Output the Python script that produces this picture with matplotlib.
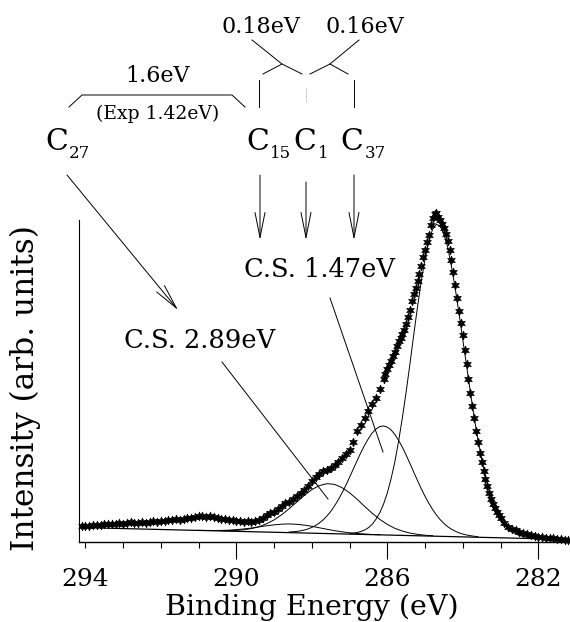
import numpy as np
import matplotlib
matplotlib.use('Agg')
import matplotlib.pyplot as plt
from matplotlib.ticker import MultipleLocator

plt.rcParams['font.family'] = ['DejaVu Serif']

# ---------------- data (binding energy in eV, intensity in arb. units) -------------
DATA_E_LEFT = [294.1, 294.0, 293.9, 293.8, 293.7, 293.6, 293.5, 293.4, 293.3, 293.2,
               293.1, 293.0, 292.9, 292.8, 292.7, 292.6, 292.5, 292.4, 292.3, 292.2,
               292.1, 292.0, 291.9, 291.8, 291.7, 291.6, 291.5, 291.4, 291.3, 291.2,
               291.1, 291.0, 290.9, 290.8, 290.7, 290.6, 290.5, 290.4, 290.3, 290.2,
               290.1, 290.0, 289.9, 289.8, 289.7, 289.6, 289.5, 289.4, 289.3, 289.2,
               289.1, 289.0, 288.9, 288.8, 288.7, 288.6, 288.5, 288.4, 288.3, 288.2,
               288.1, 288.0, 287.9, 287.8, 287.7, 287.6, 287.5, 287.4, 287.3, 287.2,
               287.1, 287.0, 286.9, 286.8, 286.7, 286.6, 286.5, 286.4, 286.3, 286.2,
               286.1]
DATA_I_LEFT = [15.5, 16, 15.5, 16.5, 17, 16.5, 17.5, 18, 17.5, 18,
               18.5, 18, 18.5, 19.5, 18.5, 19, 19.5, 19, 20, 20.5,
               19.5, 20.5, 21, 21.5, 22, 22.5, 22, 23, 23.5, 24,
               24.5, 25.5, 26, 25, 25.5, 24.5, 23.5, 23, 22.5, 22,
               21.5, 21, 20.5, 20, 20.5, 20, 20.5, 21.5, 24, 27,
               28.5, 30, 33, 36, 38.5, 40, 42.5, 45.5, 48.5, 52,
               56, 61, 64.5, 68, 70.5, 72, 74, 76.5, 80, 84,
               87.5, 92, 100, 111, 117, 124, 131, 138, 144, 153,
               163]

DATA_E_PEAK = [286.05, 286.00, 285.95, 285.90, 285.85, 285.80, 285.75, 285.70, 285.65, 285.60,
               285.55, 285.50, 285.45, 285.40, 285.35, 285.30, 285.25, 285.20, 285.15, 285.10,
               285.05, 285.00, 284.95, 284.90, 284.85, 284.80, 284.75, 284.70, 284.65, 284.60,
               284.55, 284.50, 284.45, 284.40, 284.35, 284.30, 284.25, 284.20, 284.15, 284.10,
               284.05, 284.00, 283.95, 283.90, 283.85, 283.80, 283.75, 283.70, 283.65, 283.60,
               283.55, 283.50, 283.45, 283.40, 283.35, 283.30, 283.25, 283.20, 283.15, 283.10,
               283.05, 283.00]
DATA_I_PEAK = [168, 173, 177, 181, 186, 190, 196, 201, 204, 208,
               212, 218, 225, 232, 241, 248, 254, 261, 268, 276,
               285, 292, 300, 307, 317, 324, 328, 329, 325, 322,
               318, 314, 308, 301, 292, 282, 270, 257, 244, 231,
               219, 207, 192, 178, 163, 149, 136, 124, 111, 100,
               89, 80, 71, 63, 56, 49, 43, 38, 34, 30,
               27, 24]

DATA_E_RIGHT = [282.9, 282.8, 282.7, 282.6, 282.5, 282.4, 282.3, 282.2, 282.1, 282.0,
                281.9, 281.8, 281.7, 281.6, 281.5, 281.4, 281.3, 281.2]
DATA_I_RIGHT = [19, 15, 13, 11.5, 10, 9, 8, 7, 6, 5,
                4.5, 4, 4, 3.5, 3, 2.5, 2, 1.5]

# linear background
BASE_E = [294.17, 281.16]
BASE_I = [14, 2]

# fitted components (height above background)
MAIN_E = [287.0, 286.9, 286.8, 286.7, 286.6, 286.5, 286.4, 286.3, 286.2, 286.1,
          286.0, 285.9, 285.8, 285.7, 285.6, 285.5, 285.4, 285.3, 285.2, 285.1,
          285.0, 284.9, 284.8, 284.7, 284.6, 284.5, 284.4, 284.3, 284.2, 284.1,
          284.0, 283.9, 283.8, 283.7, 283.6, 283.5, 283.4, 283.3, 283.2, 283.1,
          283.0, 282.9, 282.8, 282.7, 282.6, 282.5, 282.4, 282.3, 282.2]
MAIN_I = [0.6, 1.1, 1.8, 2.9, 4.5, 6.9, 10.3, 15.6, 22.1, 30.9,
          42.1, 56.5, 73.6, 94.5, 118, 144, 172, 201, 229, 255,
          277, 295, 307, 312, 310, 302, 289, 270, 248, 223,
          197, 171, 145, 120, 98, 78.3, 61.5, 47.1, 35.6, 26.2,
          19, 13.4, 9.4, 6.2, 4.3, 2.8, 1.8, 1.1, 0.7]

CS147_E = [288.6, 288.5, 288.4, 288.3, 288.2, 288.1, 288.0, 287.9, 287.8, 287.7,
           287.6, 287.5, 287.4, 287.3, 287.2, 287.1, 287.0, 286.9, 286.8, 286.7,
           286.6, 286.5, 286.4, 286.3, 286.2, 286.1, 286.0, 285.9, 285.8, 285.7,
           285.6, 285.5, 285.4, 285.3, 285.2, 285.1, 285.0, 284.9, 284.8, 284.7,
           284.6, 284.5, 284.4, 284.3, 284.2, 284.1, 284.0, 283.9, 283.8, 283.7,
           283.6]
CS147_I = [0.7, 1.0, 1.4, 2.1, 3.0, 4.2, 5.8, 7.8, 10.4, 13.6,
           17.6, 22.2, 27.8, 34.0, 41.1, 48.7, 56.9, 65.3, 73.7, 81.9,
           89.5, 96.1, 101.7, 105.8, 108.3, 109, 107.9, 105.2, 100.7, 94.9,
           88.1, 80.3, 72.0, 63.5, 55.2, 47.1, 39.6, 32.7, 26.6, 21.3,
           16.7, 13.0, 9.8, 7.4, 5.5, 3.9, 2.8, 2.0, 1.4, 0.9,
           0.6]

CS289_E = [290.4, 290.2, 290.0, 289.8, 289.6, 289.4, 289.2, 289.0, 288.8, 288.6,
           288.4, 288.2, 288.0, 287.8, 287.6, 287.4, 287.2, 287.0, 286.8, 286.6,
           286.4, 286.2, 286.0, 285.8, 285.6, 285.4, 285.2, 285.0, 284.8]
CS289_I = [0.2, 0.5, 1.0, 1.8, 3.1, 5.2, 8.3, 12.4, 17.7, 24.0,
           30.8, 37.6, 43.6, 47.8, 49.9, 49.4, 46.3, 41.3, 35.0, 28.0,
           21.4, 15.5, 10.6, 6.9, 4.3, 2.5, 1.4, 0.7, 0.4]

SMALL_E = [291.0, 290.8, 290.6, 290.4, 290.2, 290.0, 289.8, 289.6, 289.4, 289.2,
           289.0, 288.8, 288.6, 288.4, 288.2, 288.0, 287.8, 287.6, 287.4, 287.2,
           287.0, 286.8, 286.6, 286.4, 286.2]
SMALL_I = [0.1, 0.2, 0.3, 0.6, 1.0, 1.7, 2.6, 3.7, 5.0, 6.3,
           7.4, 8.3, 8.7, 8.5, 7.9, 6.9, 5.6, 4.3, 3.1, 2.1,
           1.3, 0.8, 0.4, 0.2, 0.1]

XTICKS = [294, 290, 286, 282]
XTICK_LABELS = ['294', '290', '286', '282']

# ---------------- figure -------------
W, H = 570, 622
fig = plt.figure(figsize=(W / 100, H / 100), dpi=100)
ax = fig.add_axes([79 / W, 1 - 541.5 / H, (W - 79) / W, (541.5 - 200) / H])
ax.set_xlim(294.17, 281.16)
ax.set_ylim(0, 341.5)


def background(e):
    e = np.asarray(e, dtype=float)
    return np.interp(e, BASE_E[::-1], BASE_I[::-1])


ax.plot(BASE_E, BASE_I, color='k', lw=0.9, zorder=2)
for ce, ci in [(MAIN_E, MAIN_I), (CS147_E, CS147_I), (CS289_E, CS289_I), (SMALL_E, SMALL_I)]:
    ax.plot(ce, np.asarray(ci) + background(ce), color='k', lw=0.7, zorder=2)

data_e = DATA_E_LEFT + DATA_E_PEAK + DATA_E_RIGHT
data_i = DATA_I_LEFT + DATA_I_PEAK + DATA_I_RIGHT
ax.plot(data_e, data_i, ls='none', marker=(6, 1, 0), ms=6.5, color='k',
        mew=0.4, zorder=3, clip_on=False)

for s in ['top', 'right']:
    ax.spines[s].set_visible(False)
ax.spines['left'].set_bounds(0, 321.5)
ax.spines['left'].set_linewidth(0.8)
ax.spines['bottom'].set_linewidth(1.0)
ax.set_yticks([])
ax.set_xticks(XTICKS)
ax.set_xticklabels(XTICK_LABELS)
ax.xaxis.set_minor_locator(MultipleLocator(1))
ax.tick_params(axis='x', which='major', direction='out', length=12, width=0.8,
               pad=7, labelsize=18)
ax.tick_params(axis='x', which='minor', direction='out', length=4.3, width=0.8)
ax.xaxis.get_major_ticks()[0].tick1line.set_markersize(4.3)

# ---------------- annotations overlay (pixel coordinates) -------------
ov = fig.add_axes([0, 0, 1, 1], zorder=5)
ov.set_xlim(0, W)
ov.set_ylim(H, 0)
ov.axis('off')
ov.patch.set_alpha(0)

lk = dict(color='k', lw=0.7)
# bracket 1.6 eV
ov.plot([69, 82, 232, 245], [107, 95, 95, 107], **lk)
# chevrons
ov.plot([263, 282, 302], [74, 64, 74], **lk)
ov.plot([282, 252], [64, 40], **lk)
ov.plot([310, 330, 348], [74, 64, 74], **lk)
ov.plot([330, 359], [64, 40], **lk)
ov.plot([259, 259], [80, 107], **lk)
ov.plot([354, 354], [80, 107], **lk)
ov.plot([306, 306], [88, 102], color='0.6', lw=0.7, ls=(0, (1, 1.5)))
# pointer lines
ov.plot([330, 383], [298, 452], **lk)
ov.plot([222, 328], [362, 499], **lk)

astyle = dict(arrowstyle='->,head_length=0.9,head_width=0.18', lw=0.7, color='k',
              mutation_scale=20, shrinkA=0, shrinkB=0)
for x0, y0 in [(260, 175), (306, 182), (354, 175)]:
    ov.annotate('', xy=(x0, 240), xytext=(x0, y0), arrowprops=astyle)
ov.annotate('', xy=(178, 310), xytext=(67, 175), arrowprops=astyle)

tk = dict(color='k', va='baseline')
ov.text(261, 33, '0.18eV', ha='center', fontsize=16, **tk)
ov.text(365, 33, '0.16eV', ha='center', fontsize=16, **tk)
ov.text(158, 82, '1.6eV', ha='center', fontsize=16, **tk)
ov.text(158, 119, '(Exp 1.42eV)', ha='center', fontsize=13.5, **tk)
ov.text(319, 277, 'C.S. 1.47eV', ha='center', fontsize=18.5, **tk)
ov.text(200, 348, 'C.S. 2.89eV', ha='center', fontsize=18.5, **tk)

for xc, xs, sub in [(45, 69, '27'), (246, 270, '15'), (293, 318, '1'), (340, 365, '37')]:
    ov.text(xc, 150, 'C', ha='left', fontsize=21.5, **tk)
    ov.text(xs, 158, sub, ha='left', fontsize=12, **tk)

ov.text(312, 615, 'Binding Energy (eV)', ha='center', fontsize=20.5, **tk)
fig.text(25 / W, 1 - 388 / H, 'Intensity (arb. units)', rotation=90,
         ha='center', va='center', fontsize=22.5, color='k')

fig.savefig('out.png', dpi=100)
